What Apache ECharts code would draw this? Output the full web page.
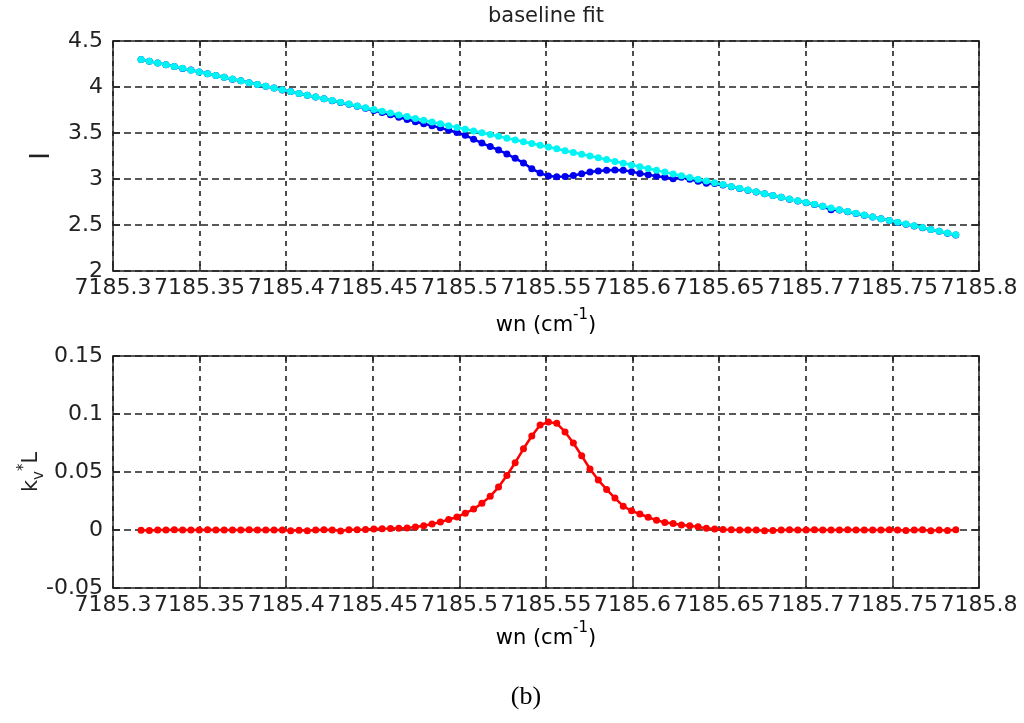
<!DOCTYPE html>
<html>
<head>
<meta charset="utf-8">
<script src="https://cdn.jsdelivr.net/npm/echarts@6/dist/echarts.min.js"></script>
<style>
  html, body { margin: 0; padding: 0; background: #ffffff; }
  #chart { width: 1024px; height: 723px; }
</style>
</head>
<body>
<div id="chart"></div>
<script>
// Wavenumber grid (cm^-1)
const wn = [
  7185.3162, 7185.3210, 7185.3258, 7185.3306, 7185.3354, 7185.3402, 7185.3450, 7185.3498, 7185.3546, 7185.3594,
  7185.3642, 7185.3690, 7185.3738, 7185.3786, 7185.3834, 7185.3882, 7185.3930, 7185.3978, 7185.4026, 7185.4074,
  7185.4122, 7185.4170, 7185.4218, 7185.4266, 7185.4314, 7185.4362, 7185.4410, 7185.4458, 7185.4506, 7185.4554,
  7185.4602, 7185.4650, 7185.4698, 7185.4746, 7185.4794, 7185.4842, 7185.4890, 7185.4938, 7185.4986, 7185.5034,
  7185.5082, 7185.5130, 7185.5178, 7185.5226, 7185.5274, 7185.5322, 7185.5370, 7185.5418, 7185.5466, 7185.5514,
  7185.5562, 7185.5610, 7185.5658, 7185.5706, 7185.5754, 7185.5802, 7185.5850, 7185.5898, 7185.5946, 7185.5994,
  7185.6042, 7185.6090, 7185.6138, 7185.6186, 7185.6234, 7185.6282, 7185.6330, 7185.6378, 7185.6426, 7185.6474,
  7185.6522, 7185.6570, 7185.6618, 7185.6666, 7185.6714, 7185.6762, 7185.6810, 7185.6858, 7185.6906, 7185.6954,
  7185.7002, 7185.7050, 7185.7098, 7185.7146, 7185.7194, 7185.7242, 7185.7290, 7185.7338, 7185.7386, 7185.7434,
  7185.7482, 7185.7530, 7185.7578, 7185.7626, 7185.7674, 7185.7722, 7185.7770, 7185.7818, 7185.7866
];

// Measured intensity I
const measuredI = [
  4.300, 4.280, 4.262, 4.241, 4.223, 4.202, 4.184, 4.163, 4.145, 4.124,
  4.106, 4.085, 4.067, 4.046, 4.028, 4.007, 3.989, 3.968, 3.950, 3.929,
  3.911, 3.890, 3.872, 3.851, 3.832, 3.812, 3.791, 3.768, 3.745, 3.722,
  3.698, 3.672, 3.648, 3.622, 3.600, 3.580, 3.556, 3.530, 3.505, 3.475,
  3.433, 3.390, 3.352, 3.315, 3.272, 3.225, 3.175, 3.112, 3.065, 3.032,
  3.024, 3.027, 3.038, 3.056, 3.077, 3.088, 3.095, 3.098, 3.096, 3.080,
  3.060, 3.046, 3.030, 3.018, 3.002, 3.020, 2.998, 2.975, 2.955, 2.950,
  2.936, 2.917, 2.898, 2.879, 2.859, 2.840, 2.820, 2.801, 2.781, 2.762,
  2.742, 2.723, 2.703, 2.665, 2.664, 2.645, 2.625, 2.606, 2.586, 2.567,
  2.548, 2.528, 2.509, 2.489, 2.470, 2.450, 2.431, 2.411, 2.392
];

// Fitted baseline I0
const baselineI = [
  4.300, 4.281, 4.261, 4.242, 4.222, 4.203, 4.183, 4.164, 4.144, 4.125,
  4.106, 4.086, 4.067, 4.047, 4.028, 4.008, 3.989, 3.969, 3.950, 3.930,
  3.911, 3.892, 3.872, 3.853, 3.833, 3.814, 3.794, 3.775, 3.755, 3.736,
  3.717, 3.697, 3.678, 3.658, 3.639, 3.619, 3.600, 3.580, 3.561, 3.541,
  3.522, 3.503, 3.483, 3.464, 3.444, 3.425, 3.405, 3.386, 3.366, 3.347,
  3.328, 3.308, 3.289, 3.269, 3.250, 3.230, 3.211, 3.191, 3.172, 3.152,
  3.133, 3.114, 3.094, 3.075, 3.055, 3.036, 3.016, 2.997, 2.977, 2.958,
  2.939, 2.919, 2.900, 2.880, 2.861, 2.841, 2.822, 2.802, 2.783, 2.763,
  2.744, 2.725, 2.705, 2.686, 2.666, 2.647, 2.627, 2.608, 2.588, 2.569,
  2.550, 2.530, 2.511, 2.491, 2.472, 2.452, 2.433, 2.413, 2.394
];

// Absorbance k_v*L
const kvL = [
  -0.0003, -0.0005, 0.0001, 0.0000, 0.0002, 0.0001, 0.0000, 0.0001, 0.0002, 0.0000,
  0.0001, 0.0001, 0.0000, 0.0002, 0.0001, 0.0000, 0.0001, 0.0000, -0.0006, -0.0002,
  -0.0007, 0.0001, 0.0002, 0.0001, -0.0008, 0.0002, 0.0002, 0.0004, 0.0008, 0.0010,
  0.0012, 0.0015, 0.0018, 0.0025, 0.0036, 0.0052, 0.0068, 0.0090, 0.0112, 0.0145,
  0.0180, 0.0230, 0.0290, 0.0370, 0.0470, 0.0580, 0.0700, 0.0810, 0.0905, 0.0930,
  0.0920, 0.0845, 0.0750, 0.0640, 0.0526, 0.0430, 0.0350, 0.0275, 0.0205, 0.0165,
  0.0138, 0.0110, 0.0085, 0.0065, 0.0056, 0.0043, 0.0036, 0.0027, 0.0016, 0.0009,
  0.0005, 0.0002, 0.0001, 0.0000, 0.0001, -0.0006, -0.0005, 0.0001, 0.0002, 0.0001,
  0.0001, 0.0002, 0.0000, 0.0001, 0.0001, 0.0002, 0.0000, 0.0001, 0.0001, 0.0000,
  0.0002, 0.0001, -0.0005, 0.0001, 0.0002, -0.0006, 0.0000, -0.0005, 0.0003
];

// Axis ranges [min, max, step]
const xRange = [7185.3, 7185.8, 0.05];
const yRangeTop = [2, 4.5, 0.5];
const yRangeBottom = [-0.05, 0.15, 0.05];

const FONT = 'DejaVu Sans';
const INK = '#222222';

const pairs = (ys) => wn.map((x, i) => [x, ys[i]]);
const fmtTick = (v) => String(parseFloat(v.toFixed(2)));

function xAxes(gridIndex) {
  const base = {
    gridIndex, type: 'value', min: xRange[0], max: xRange[1], interval: xRange[2],
    axisLine: { show: true, onZero: false, lineStyle: { color: INK, width: 1.5 } },
    axisTick: { show: true, inside: true, length: 7, lineStyle: { color: INK, width: 1.5 } }
  };
  return [
    Object.assign({}, base, {
      position: 'bottom',
      axisLabel: { show: true, margin: 6, color: INK, fontFamily: FONT, fontSize: 22, formatter: fmtTick },
      splitLine: { show: true, lineStyle: { color: INK, width: 1.6, type: [5, 5] } }
    }),
    Object.assign({}, base, {
      position: 'top',
      axisLabel: { show: false },
      splitLine: { show: false }
    })
  ];
}

function yAxes(gridIndex, r, name, nameStyle, gap) {
  const base = {
    gridIndex, type: 'value', min: r[0], max: r[1], interval: r[2],
    axisLine: { show: true, onZero: false, lineStyle: { color: INK, width: 1.5 } },
    axisTick: { show: true, inside: true, length: 7, lineStyle: { color: INK, width: 1.5 } }
  };
  return [
    Object.assign({}, base, {
      position: 'left',
      name, nameLocation: 'middle', nameRotate: 90, nameGap: gap, nameTextStyle: nameStyle,
      nameMoveOverlap: false,
      axisLabel: { show: true, margin: 10, color: INK, fontFamily: FONT, fontSize: 22, formatter: fmtTick },
      splitLine: { show: true, lineStyle: { color: INK, width: 1.6, type: [7, 4] } }
    }),
    Object.assign({}, base, {
      position: 'right',
      axisLabel: { show: false },
      splitLine: { show: false }
    })
  ];
}

function dotLine(name, data, color, xi, yi, z) {
  return {
    name, type: 'line', data, xAxisIndex: xi, yAxisIndex: yi, z,
    symbol: 'circle', symbolSize: 7, showSymbol: true,
    itemStyle: { color },
    lineStyle: { color, width: 2.5 },
    emphasis: { disabled: true },
    animation: false
  };
}

const chart = echarts.init(document.getElementById('chart'), null, { renderer: 'canvas' });

const supRich = {
  n: { fontFamily: FONT, fontSize: 21, color: INK, lineHeight: 28, verticalAlign: 'bottom' },
  s: { fontFamily: FONT, fontSize: 15, color: INK, lineHeight: 28, verticalAlign: 'top' }
};

const nameI = {
  color: INK,
  rich: { n: { fontFamily: FONT, fontSize: 26, color: INK, lineHeight: 30, verticalAlign: 'middle' } }
};
const nameK = {
  color: INK,
  rich: {
    n: { fontFamily: FONT, fontSize: 21, color: INK, lineHeight: 30, verticalAlign: 'middle' },
    b: { fontFamily: FONT, fontSize: 15, color: INK, lineHeight: 30, verticalAlign: 'bottom' },
    t: { fontFamily: FONT, fontSize: 15, color: INK, lineHeight: 30, verticalAlign: 'top' }
  }
};

chart.setOption({
  backgroundColor: '#ffffff',
  animation: false,
  grid: [
    { left: 113, top: 41, width: 866, height: 230, containLabel: false, outerBoundsMode: 'none' },
    { left: 113, top: 356, width: 866, height: 232, containLabel: false, outerBoundsMode: 'none' }
  ],
  xAxis: [].concat(xAxes(0), xAxes(1)),
  yAxis: [].concat(
    yAxes(0, yRangeTop, '{n|I}', nameI, 56),
    yAxes(1, yRangeBottom, '{n|k}{b|v}{t|*}{n|L}', nameK, 66)
  ),
  series: [
    dotLine('I', pairs(measuredI), '#0000f0', 0, 0, 2),
    dotLine('I0', pairs(baselineI), '#00f4f4', 0, 0, 3),
    dotLine('kvL', pairs(kvL), '#ff0000', 2, 2, 2)
  ],
  graphic: [
    { type: 'text', x: 546, y: 17,
      style: { text: 'baseline fit', font: '21px "DejaVu Sans"', fill: INK, align: 'center', verticalAlign: 'middle' } },
    { type: 'text', x: 546, y: 322,
      style: { text: '{n|wn (cm}{s|-1}{n|)}', rich: supRich, align: 'center', verticalAlign: 'middle' } },
    { type: 'text', x: 546, y: 635,
      style: { text: '{n|wn (cm}{s|-1}{n|)}', rich: supRich, align: 'center', verticalAlign: 'middle' } },
    { type: 'text', x: 526, y: 697,
      style: { text: '(b)', font: '26px "Liberation Serif"', fill: '#000', align: 'center', verticalAlign: 'middle' } }
  ]
});
</script>
</body>
</html>
